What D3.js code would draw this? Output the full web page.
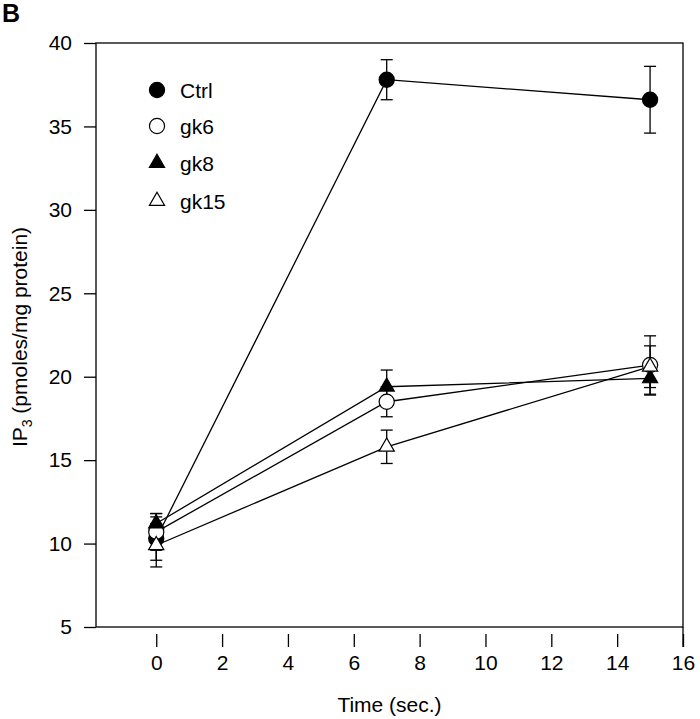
<!DOCTYPE html>
<html>
<head>
<meta charset="utf-8">
<script src="https://cdn.jsdelivr.net/npm/d3@7"></script>
<style>
  body { margin: 0; background: #fff; }
  svg { font-family: Arial, "Liberation Sans", sans-serif; }
</style>
</head>
<body>
<svg id="chart" width="700" height="719"></svg>
<script>
const times = [0, 7, 15];
const seriesNames = ["Ctrl", "gk6", "gk8", "gk15"];
const ctrlValues = [10.3, 37.8, 36.6];
const ctrlErrors = [1.3, 1.2, 2.0];
const gk6Values = [10.7, 18.5, 20.7];
const gk6Errors = [1.1, 0.9, 1.75];
const gk8Values = [11.2, 19.4, 19.9];
const gk8Errors = [0.6, 1.0, 1.0];
const gk15Values = [9.9, 15.8, 20.6];
const gk15Errors = [1.3, 1.0, 1.25];
const xTicks = [0, 2, 4, 6, 8, 10, 12, 14, 16];
const yTicks = [5, 10, 15, 20, 25, 30, 35, 40];

const series = [
  { name: "Ctrl", values: ctrlValues, errors: ctrlErrors, shape: d3.symbolCircle, filled: true },
  { name: "gk6", values: gk6Values, errors: gk6Errors, shape: d3.symbolCircle, filled: false },
  { name: "gk8", values: gk8Values, errors: gk8Errors, shape: d3.symbolTriangle, filled: true },
  { name: "gk15", values: gk15Values, errors: gk15Errors, shape: d3.symbolTriangle, filled: false }
];

const svg = d3.select("#chart");
const L = 96, R = 683, T = 43, B = 627;
const FS = 21;
const x = d3.scaleLinear().domain([-1.83, 16]).range([L, R]);
const y = d3.scaleLinear().domain([5, 40]).range([B, T]);

const symSize = s => s === d3.symbolCircle ? 180 : 100;

// frame
svg.append("rect").attr("x", L).attr("y", T).attr("width", R - L).attr("height", B - T)
  .attr("fill", "none").attr("stroke", "#000").attr("stroke-width", 1.3);
svg.append("line").attr("x1", R).attr("x2", R).attr("y1", B).attr("y2", 647)
  .attr("stroke", "#000").attr("stroke-width", 1.3);

// y axis
const yAxis = svg.append("g").attr("transform", `translate(${L},0)`)
  .call(d3.axisLeft(y).tickValues(yTicks).tickSize(12).tickPadding(12).tickFormat(d3.format("d")));
yAxis.select(".domain").remove();
yAxis.selectAll(".tick line").attr("stroke-width", 1.3);
yAxis.selectAll("text").attr("font-size", FS).attr("fill", "#000");

// x axis
const xAxis = svg.append("g").attr("transform", `translate(0,634)`)
  .call(d3.axisBottom(x).tickValues(xTicks).tickSize(13).tickPadding(8).tickFormat(d3.format("d")));
xAxis.select(".domain").remove();
xAxis.selectAll(".tick line").attr("stroke-width", 1.3);
xAxis.selectAll("text").attr("font-size", FS).attr("fill", "#000");

// axis titles
svg.append("text").attr("x", (L + R) / 2).attr("y", 712)
  .attr("text-anchor", "middle").attr("font-size", FS).text("Time (sec.)");
const yl = svg.append("text").attr("transform", "translate(27,337) rotate(-90)")
  .attr("text-anchor", "middle").attr("font-size", FS);
yl.append("tspan").text("IP");
yl.append("tspan").attr("font-size", 14).attr("dy", 5).text("3");
yl.append("tspan").attr("dy", -5).text(" (pmoles/mg protein)");

svg.append("text").attr("x", 2).attr("y", 22).attr("font-size", 25).attr("font-weight", "bold").text("B");

// lines
const line = d3.line().x(d => x(d[0])).y(d => y(d[1]));
series.forEach(s => {
  svg.append("path").attr("d", line(times.map((t, i) => [t, s.values[i]])))
    .attr("fill", "none").attr("stroke", "#000").attr("stroke-width", 1.3);
});

// error bars
series.forEach(s => {
  const g = svg.append("g").attr("stroke", "#000").attr("stroke-width", 1.3);
  times.forEach((t, i) => {
    const cx = x(t), hi = y(s.values[i] + s.errors[i]), lo = y(s.values[i] - s.errors[i]);
    g.append("line").attr("x1", cx).attr("x2", cx).attr("y1", hi).attr("y2", lo);
    g.append("line").attr("x1", cx - 6).attr("x2", cx + 6).attr("y1", hi).attr("y2", hi);
    g.append("line").attr("x1", cx - 6).attr("x2", cx + 6).attr("y1", lo).attr("y2", lo);
  });
});

// markers
series.forEach(s => {
  const sym = d3.symbol().type(s.shape).size(symSize(s.shape));
  times.forEach((t, i) => {
    svg.append("path").attr("d", sym())
      .attr("transform", `translate(${x(t)},${y(s.values[i])})`)
      .attr("fill", s.filled ? "#000" : "#fff").attr("stroke", "#000").attr("stroke-width", 1.2);
  });
});

// legend
const legY = [90, 126, 163, 201];
series.forEach((s, i) => {
  const sym = d3.symbol().type(s.shape).size(symSize(s.shape));
  svg.append("path").attr("d", sym()).attr("transform", `translate(157,${legY[i]})`)
    .attr("fill", s.filled ? "#000" : "#fff").attr("stroke", "#000").attr("stroke-width", 1.2);
  svg.append("text").attr("x", 180).attr("y", legY[i]).attr("dy", "0.36em")
    .attr("font-size", FS).text(seriesNames[i]);
});
</script>
</body>
</html>
